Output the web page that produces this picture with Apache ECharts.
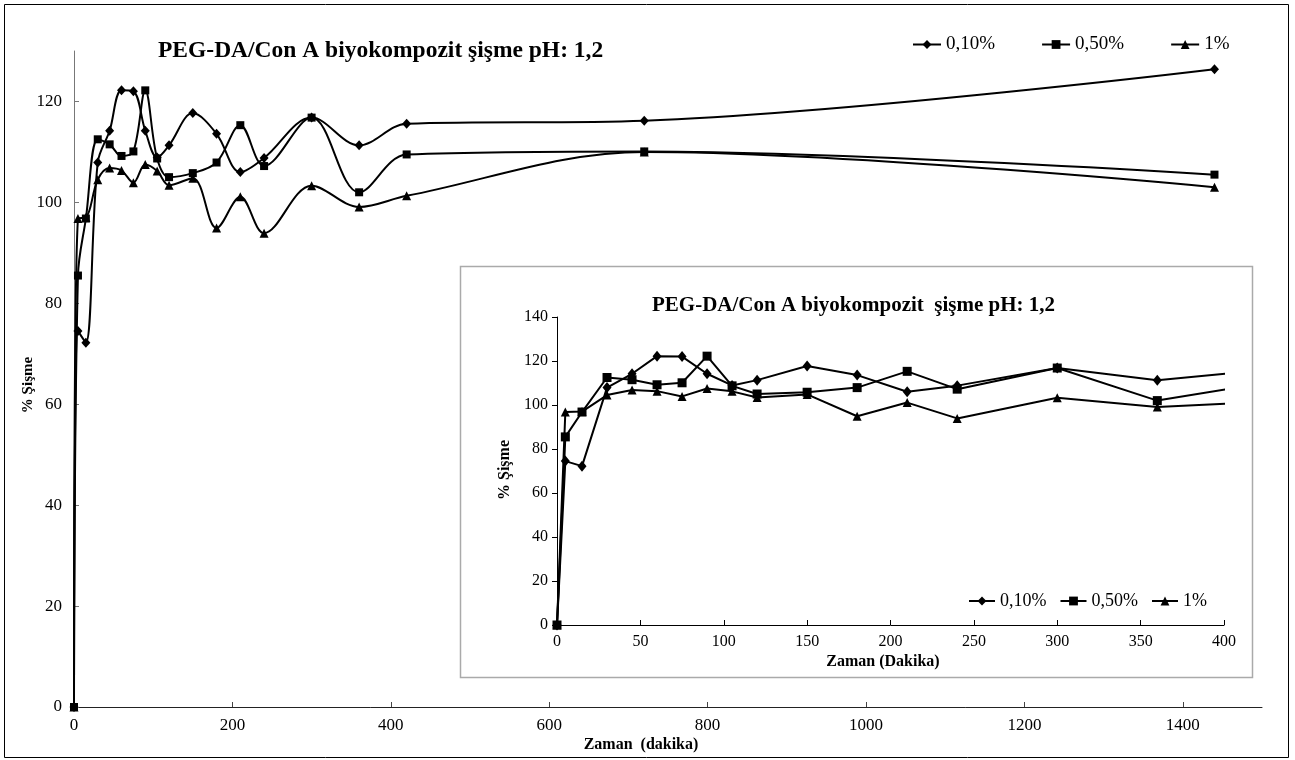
<!DOCTYPE html>
<html>
<head>
<meta charset="utf-8">
<script src="https://cdn.jsdelivr.net/npm/echarts@6/dist/echarts.min.js"></script>
<style>html,body{margin:0;padding:0;background:#fff;}#c{width:1295px;height:760px;}</style>
</head>
<body>
<div id="c"></div>
<script>
// ---- data ----
var times = [0, 5, 15, 30, 45, 60, 75, 90, 105, 120, 150, 180, 210, 240, 300, 360, 420, 720, 1440];
var seriesNames = ['0,10%', '0,50%', '1%'];
var pct010 = [0, 74.5, 72.2, 107.9, 114.2, 122.2, 122.0, 114.2, 108.9, 111.3, 117.7, 113.6, 106.0, 108.8, 116.8, 111.3, 115.6, 116.2, 126.4];
var pct050 = [0, 85.5, 96.8, 112.5, 111.5, 109.2, 110.1, 122.2, 108.7, 105.0, 105.8, 107.9, 115.3, 107.2, 116.8, 102.0, 109.5, 110.1, 105.5];
var pct1   = [0, 96.8, 97.0, 104.5, 106.8, 106.3, 103.9, 107.5, 106.2, 103.4, 104.8, 94.9, 101.1, 93.9, 103.3, 99.1, 101.3, 110.0, 103.0];
var titleText = 'PEG-DA/Con A biyokompozit şişme pH: 1,2';
var insetTitleText = 'PEG-DA/Con A biyokompozit  şişme pH: 1,2';
var yName = '% Şişme';
var xNameMain = 'Zaman  (dakika)';
var xNameInset = 'Zaman (Dakika)';

function pairs(vals) { return times.map(function (t, i) { return [t, vals[i]]; }); }
function plain(v) { return String(v); }

var SERIF = "'Liberation Serif', 'Times New Roman', serif";
var symbols = ['diamond', 'rect', 'triangle'];
var mainSizes = [[9, 10], 8, 9];
var insetSizes = [[9, 11], 9, 9];
var allVals = [pct010, pct050, pct1];

var series = [];
for (var i = 0; i < 3; i++) {
  series.push({
    name: seriesNames[i], type: 'line', xAxisIndex: 0, yAxisIndex: 0,
    data: pairs(allVals[i]), smooth: 0.35, symbol: symbols[i], symbolSize: mainSizes[i],
    showAllSymbol: true,
    lineStyle: { color: '#000', width: 2 }, itemStyle: { color: '#000' },
    emphasis: { disabled: true }, animation: false
  });
}
for (var j = 0; j < 3; j++) {
  series.push({
    name: seriesNames[j], type: 'line', xAxisIndex: 1, yAxisIndex: 1,
    data: pairs(allVals[j]), smooth: false, symbol: symbols[j], symbolSize: insetSizes[j],
    showAllSymbol: true, clip: true,
    lineStyle: { color: '#000', width: 2 }, itemStyle: { color: '#000' },
    emphasis: { disabled: true }, animation: false
  });
}

var labelStyle = { color: '#000', fontFamily: SERIF, formatter: plain };

var option = {
  backgroundColor: '#fff',
  animation: false,
  title: [
    { text: titleText, left: 153, top: 34, textStyle: { fontFamily: SERIF, fontWeight: 'bold', fontSize: 23.5, color: '#000' } },
    { text: insetTitleText, left: 647, top: 290, textStyle: { fontFamily: SERIF, fontWeight: 'bold', fontSize: 21, color: '#000' } }
  ],
  legend: [
    { data: seriesNames, left: 907, top: 30, itemWidth: 28, itemHeight: 11, itemGap: 46,
      textStyle: { fontFamily: SERIF, fontSize: 19, color: '#000' }, selectedMode: false },
    { data: seriesNames, left: 963, top: 587, itemWidth: 26, itemHeight: 11, itemGap: 13,
      textStyle: { fontFamily: SERIF, fontSize: 18, color: '#000' }, selectedMode: false }
  ],
  grid: [
    { left: 74, top: 51, width: 1188, height: 656 },
    { left: 557, top: 317, width: 667, height: 308 }
  ],
  xAxis: [
    { type: 'value', gridIndex: 0, min: 0, max: 1500, interval: 200,
      axisLine: { lineStyle: { color: '#222', width: 1 } },
      axisTick: { inside: true, length: 5, lineStyle: { color: '#444' } },
      axisLabel: Object.assign({ fontSize: 17, margin: 10, showMaxLabel: false }, labelStyle),
      splitLine: { show: false } },
    { type: 'value', gridIndex: 1, min: 0, max: 400, interval: 50,
      axisLine: { lineStyle: { color: '#000', width: 1 } },
      axisTick: { inside: true, length: 5, lineStyle: { color: '#000' } },
      axisLabel: Object.assign({ fontSize: 16, margin: 9 }, labelStyle),
      splitLine: { show: false } }
  ],
  yAxis: [
    { type: 'value', gridIndex: 0, min: 0, max: 130, interval: 20,
      axisLine: { show: true, lineStyle: { color: '#777', width: 1 } },
      axisTick: { show: true, inside: true, length: 5, lineStyle: { color: '#777' } },
      axisLabel: Object.assign({ fontSize: 17, margin: 12, showMaxLabel: false }, labelStyle),
      splitLine: { show: false } },
    { type: 'value', gridIndex: 1, min: 0, max: 140, interval: 20,
      axisLine: { show: true, lineStyle: { color: '#000', width: 1 } },
      axisTick: { show: true, length: 5, lineStyle: { color: '#000' } },
      axisLabel: Object.assign({ fontSize: 16, margin: 9 }, labelStyle),
      splitLine: { show: false } }
  ],
  graphic: [
    { type: 'rect', shape: { x: 4.5, y: 4.5, width: 1284, height: 753 }, style: { fill: 'none', stroke: '#000', lineWidth: 1 }, silent: true },
    { type: 'rect', shape: { x: 460.5, y: 266.5, width: 792, height: 411 }, style: { fill: 'none', stroke: '#aaa', lineWidth: 1.5 }, silent: true },
    { type: 'text', x: 28, y: 385, rotation: Math.PI / 2, silent: true,
      style: { text: yName, font: 'bold 15px ' + SERIF, fill: '#000', textAlign: 'center', textVerticalAlign: 'middle' } },
    { type: 'text', x: 505, y: 470, rotation: Math.PI / 2, silent: true,
      style: { text: yName, font: 'bold 16px ' + SERIF, fill: '#000', textAlign: 'center', textVerticalAlign: 'middle' } },
    { type: 'text', x: 641, y: 745, silent: true,
      style: { text: xNameMain, font: 'bold 16px ' + SERIF, fill: '#000', textAlign: 'center', textVerticalAlign: 'middle' } },
    { type: 'text', x: 883, y: 662, silent: true,
      style: { text: xNameInset, font: 'bold 16px ' + SERIF, fill: '#000', textAlign: 'center', textVerticalAlign: 'middle' } }
  ],
  series: series
};

var chart = echarts.init(document.getElementById('c'), null, { renderer: 'canvas' });
chart.setOption(option);
</script>
</body>
</html>
